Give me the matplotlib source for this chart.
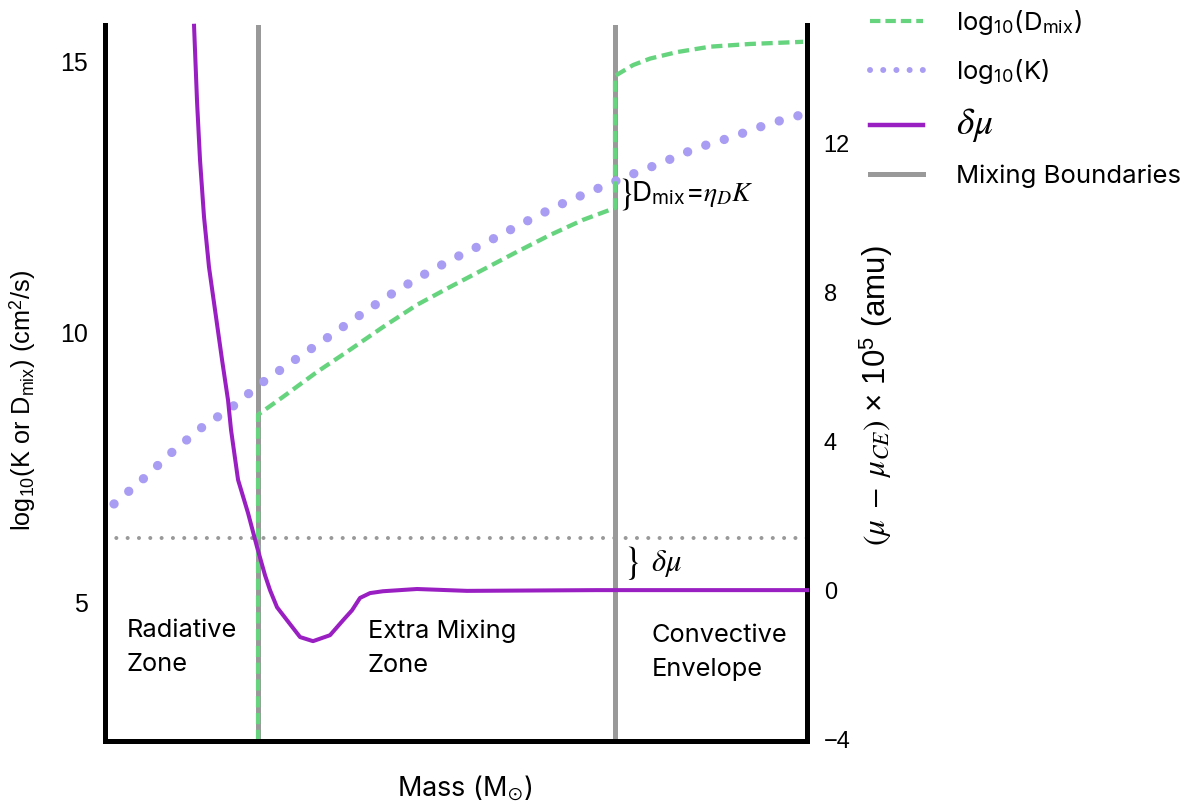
import matplotlib
matplotlib.use("Agg")
import matplotlib.pyplot as plt
from matplotlib.lines import Line2D

plt.rcParams["font.family"] = ["Inter", "DejaVu Sans"]
plt.rcParams["mathtext.fontset"] = "stix"

# mass coordinate (arbitrary, 0 = inner edge of plotted region, 1 = outer edge)
boundaries = [0.218, 0.7265]

# thermal diffusivity K (left axis, log10 cm^2/s)
mass_K = [0.0128, 0.0541, 0.0940, 0.1353, 0.1809, 0.2236, 0.2678, 0.3120, 0.3575,
          0.4017, 0.4487, 0.4957, 0.5442, 0.5940, 0.6410, 0.6909, 0.7407, 0.7920,
          0.8433, 0.8932, 0.9444, 0.9972]
logK = [6.83, 7.29, 7.77, 8.22, 8.62, 9.07, 9.47, 9.86, 10.27, 10.66, 11.03, 11.36,
        11.67, 12.01, 12.32, 12.60, 12.87, 13.13, 13.41, 13.61, 13.85, 14.04]

# mixing coefficient D_mix (left axis)
mass_D = [0.218, 0.218, 0.2536, 0.3020, 0.3490, 0.3960, 0.4444, 0.4915, 0.5385,
          0.5869, 0.6339, 0.6809, 0.7265, 0.7265, 0.7521, 0.7764, 0.8148, 0.8618,
          0.9188, 0.9943]
logD = [2.45, 8.48, 8.81, 9.27, 9.68, 10.10, 10.51, 10.84, 11.16, 11.49, 11.80,
        12.08, 12.30, 14.74, 14.94, 15.06, 15.18, 15.28, 15.33, 15.37]

# mean molecular weight offset (right axis, x 1e5 amu)
mass_mu = [0.1268, 0.1311, 0.1353, 0.1410, 0.1481, 0.1567, 0.1667, 0.1752, 0.1795,
           0.1895, 0.2037, 0.2165, 0.2279, 0.2350, 0.2450, 0.2593, 0.2778, 0.2963,
           0.3205, 0.3390, 0.3519, 0.3632, 0.3775, 0.3960, 0.4444, 0.5157, 0.7000,
           1.0]
dmu = [15.15, 13.10, 11.55, 10.02, 8.67, 7.52, 6.18, 5.10, 4.30, 2.96, 2.07, 1.16,
       0.40, 0.0, -0.46, -0.81, -1.26, -1.37, -1.21, -0.81, -0.54, -0.21, -0.08,
       -0.03, 0.03, -0.02, 0.0, 0.0]
dmu_level = 1.4

left_ticks = [5, 10, 15]
right_ticks = [-4, 0, 4, 8, 12]

GREEN = "#66d47f"
LAVENDER = "#a99cf3"
PURPLE = "#9a1fc2"
GRAY = "#999999"

fig = plt.figure(figsize=(11.99, 8.10), dpi=100)
ax = fig.add_axes([0.0876, 0.0852, 0.5855, 0.8839])
ax2 = ax.twinx()

ax.set_xlim(0, 1)
ax.set_ylim(2.45, 15.68)
ax2.set_ylim(-4.05, 15.17)

for xb in boundaries:
    ax.axvline(xb, color=GRAY, lw=3.6, zorder=1)
ax2.axhline(dmu_level, color=GRAY, lw=2.9, ls=(0, (0.01, 2.8)),
            dash_capstyle="round", zorder=1)

ax.plot(mass_K, logK, color=LAVENDER, lw=6.7, ls=(0, (0.01, 2.07)),
        dash_capstyle="round", zorder=2)
ax.plot(mass_D, logD, color=GREEN, lw=3.1, ls=(0, (2.6, 1.3)), zorder=3)
ax2.plot(mass_mu, dmu, color=PURPLE, lw=2.9, zorder=4, clip_on=False,
         solid_joinstyle="round")

for a in (ax, ax2):
    a.spines["top"].set_visible(False)
    for s in ("left", "right", "bottom"):
        a.spines[s].set_linewidth(3.6)
        a.spines[s].set_color("black")
    a.set_xticks([])
ax.set_yticks(left_ticks)
ax2.set_yticks(right_ticks)
ax.tick_params(axis="y", length=0, pad=12, labelsize=18)
ax2.tick_params(axis="y", length=0, pad=12, labelsize=17)
for lab in ax.get_yticklabels() + ax2.get_yticklabels():
    lab.set_family("Liberation Sans")

ax.set_ylabel(r"log$_{\mathregular{10}}$(K or D$_{\mathregular{mix}}$) (cm$^{\mathregular{2}}$/s)",
              fontsize=18.2, family="Liberation Sans")
ax.yaxis.set_label_coords(-0.094, 0.475)
ax2.set_ylabel(r"$(\mu\;-\;\mu_{CE})$ × 10$^{\mathregular{5}}$ (amu)", fontsize=22.5,
               family="Liberation Sans", rotation=90)
ax2.yaxis.set_label_coords(1.072, 0.482)
ax.set_xlabel(r"Mass (M$_{\odot}$)", fontsize=19.5)
ax.xaxis.set_label_coords(0.513, -0.045)

zone_kw = dict(transform=ax.transAxes, fontsize=18.3, va="top", ha="left",
               linespacing=1.62)
ax.text(0.031, 0.170, "Radiative\nZone", **zone_kw)
ax.text(0.374, 0.170, "Extra Mixing\nZone", **zone_kw)
ax.text(0.779, 0.164, "Convective\nEnvelope", **zone_kw)

# braces marking the D_mix jump and the delta-mu offset
ax.text(0.7265 + 0.003, 12.56, r"$\}$", fontsize=26, va="center", ha="left")
ax.text(0.7265 + 0.023, 12.56, r"D$_{\mathregular{mix}}$=$\eta_D K$",
        fontsize=20, va="center", ha="left")
ax2.text(0.7265 + 0.011, 0.72, r"$\}$", fontsize=27, va="center", ha="left")
ax2.text(0.7265 + 0.051, 0.72, r"$\delta\mu$", fontsize=22, va="center",
         ha="left")

handles = [
    Line2D([], [], color=GREEN, lw=3.0, ls=(0, (2.5, 1.2))),
    Line2D([], [], color=LAVENDER, lw=4.3, ls=(0, (0.01, 2.2)),
           dash_capstyle="round"),
    Line2D([], [], color=PURPLE, lw=3.2),
    Line2D([], [], color=GRAY, lw=3.6),
]
labels = [r"log$_{\mathregular{10}}$(D$_{\mathregular{mix}}$)",
          r"log$_{\mathregular{10}}$(K)",
          r"$\delta\mu$",
          "Mixing Boundaries"]
leg = fig.legend(handles, labels, loc="upper left",
                 bbox_to_anchor=(0.7256, 0.990), frameon=False, fontsize=18.5,
                 handlelength=2.05, handletextpad=1.3, labelspacing=0.78,
                 borderpad=0, borderaxespad=0)
leg.get_texts()[2].set_fontsize(27)

fig.savefig("out.png", dpi=100)
